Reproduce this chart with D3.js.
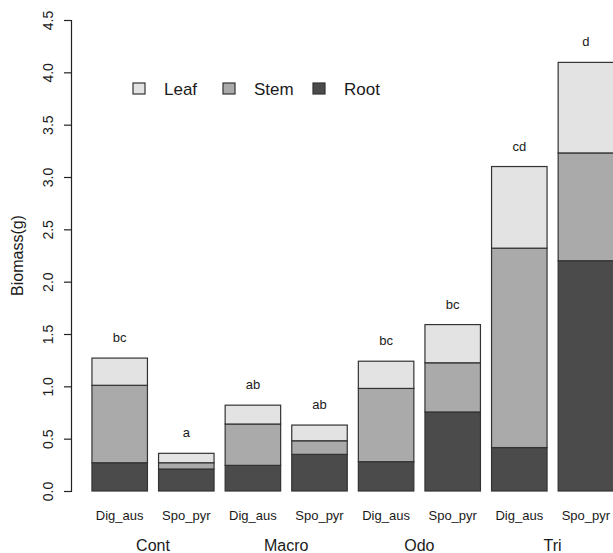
<!DOCTYPE html>
<html>
<head>
<meta charset="utf-8">
<script src="https://cdn.jsdelivr.net/npm/d3@7"></script>
<style>
  body { margin: 0; background: #fff; }
  text { font-family: "Liberation Sans", Arial, sans-serif; fill: #1a1a1a; }
</style>
</head>
<body>
<div id="chart"></div>
<script>
// data
const groups = ["Cont", "Macro", "Odo", "Tri"];
const species = ["Dig_aus", "Spo_pyr"];
const parts = ["Root", "Stem", "Leaf"];
const root = [0.27, 0.21, 0.245, 0.35, 0.28, 0.755, 0.415, 2.20];
const stem = [0.74, 0.06, 0.395, 0.13, 0.70, 0.47, 1.905, 1.03];
const leaf = [0.26, 0.09, 0.18, 0.15, 0.26, 0.365, 0.78, 0.865];
const letters = ["bc", "a", "ab", "ab", "bc", "bc", "cd", "d"];
const yTicks = [0, 0.5, 1, 1.5, 2, 2.5, 3, 3.5, 4, 4.5];

const colors = { Leaf: "#e3e3e3", Stem: "#aaaaaa", Root: "#4b4b4b" };

const width = 613, height = 553;

const svg = d3.select("#chart").append("svg")
  .attr("width", width)
  .attr("height", height);

// build table
let rows = [];
groups.forEach((g, gi) => {
  species.forEach((s, si) => {
    let i = gi * 2 + si;
    rows.push({ key: g + "_" + s, group: g, species: s, Root: root[i], Stem: stem[i], Leaf: leaf[i], letter: letters[i] });
  });
});

// scales
let x = d3.scaleBand()
  .domain(rows.map(d => d.key))
  .range([86.4, 619.2])
  .paddingInner(1 / 6)
  .paddingOuter(1 / 12);

let y = d3.scaleLinear().domain([0, 4.5]).range([491, 20]);

let stack = d3.stack().keys(parts);
let series = stack(rows);

// bars
svg.append("g").selectAll("g")
  .data(series)
  .enter()
  .append("g")
  .attr("fill", d => colors[d.key])
  .selectAll("rect")
  .data(d => d)
  .enter()
  .append("rect")
  .attr("x", d => x(d.data.key))
  .attr("width", x.bandwidth())
  .attr("y", d => y(d[1]))
  .attr("height", d => y(d[0]) - y(d[1]))
  .attr("stroke", "#333")
  .attr("stroke-width", 1.2);

// significance letters
svg.append("g").selectAll("text")
  .data(rows)
  .enter()
  .append("text")
  .attr("x", d => x(d.key) + x.bandwidth() / 2)
  .attr("y", d => y(d.Root + d.Stem + d.Leaf) - 16)
  .attr("text-anchor", "middle")
  .attr("font-size", 13)
  .text(d => d.letter);

// y axis
let yAxis = d3.axisLeft(y).tickValues(yTicks).tickFormat(d3.format(".1f")).tickSize(7).tickPadding(0);
let yg = svg.append("g")
  .attr("class", "y-axis axis")
  .attr("transform", "translate(71,0)")
  .call(yAxis);
yg.select(".domain").attr("stroke", "#222").attr("stroke-width", 1.2);
yg.selectAll(".tick line").attr("stroke", "#222").attr("stroke-width", 1.2);
yg.selectAll(".tick text")
  .attr("font-size", 14)
  .attr("font-family", "Liberation Sans, Arial, sans-serif")
  .attr("fill", "#1a1a1a")
  .attr("text-anchor", "middle")
  .attr("dy", 0)
  .attr("x", 0)
  .attr("transform", "translate(-18,0) rotate(-90)");

// y label
svg.append("text")
  .attr("transform", `translate(23, ${(y(0) + y(4.5)) / 2}) rotate(-90)`)
  .attr("text-anchor", "middle")
  .attr("font-size", 16)
  .text("Biomass(g)");

// species labels
svg.append("g").selectAll("text")
  .data(rows)
  .enter()
  .append("text")
  .attr("x", d => x(d.key) + x.bandwidth() / 2)
  .attr("y", 520)
  .attr("text-anchor", "middle")
  .attr("font-size", 13)
  .text(d => d.species);

// group labels
svg.append("g").selectAll("text")
  .data(groups)
  .enter()
  .append("text")
  .attr("x", g => (x(g + "_Dig_aus") + x(g + "_Spo_pyr") + x.bandwidth()) / 2)
  .attr("y", 551)
  .attr("text-anchor", "middle")
  .attr("font-size", 16)
  .text(g => g);

// legend
let legendItems = ["Leaf", "Stem", "Root"];
let legend = svg.append("g").attr("class", "legend").attr("transform", "translate(133, 83)");
let lg = legend.selectAll("g")
  .data(legendItems)
  .enter()
  .append("g")
  .attr("transform", (d, i) => `translate(${i * 90}, 0)`);
lg.append("rect")
  .attr("width", 12)
  .attr("height", 11)
  .attr("fill", d => colors[d])
  .attr("stroke", "#333")
  .attr("stroke-width", 1.2);
lg.append("text")
  .attr("x", 31)
  .attr("y", 11.5)
  .attr("font-size", 17)
  .text(d => d);
</script>
</body>
</html>
